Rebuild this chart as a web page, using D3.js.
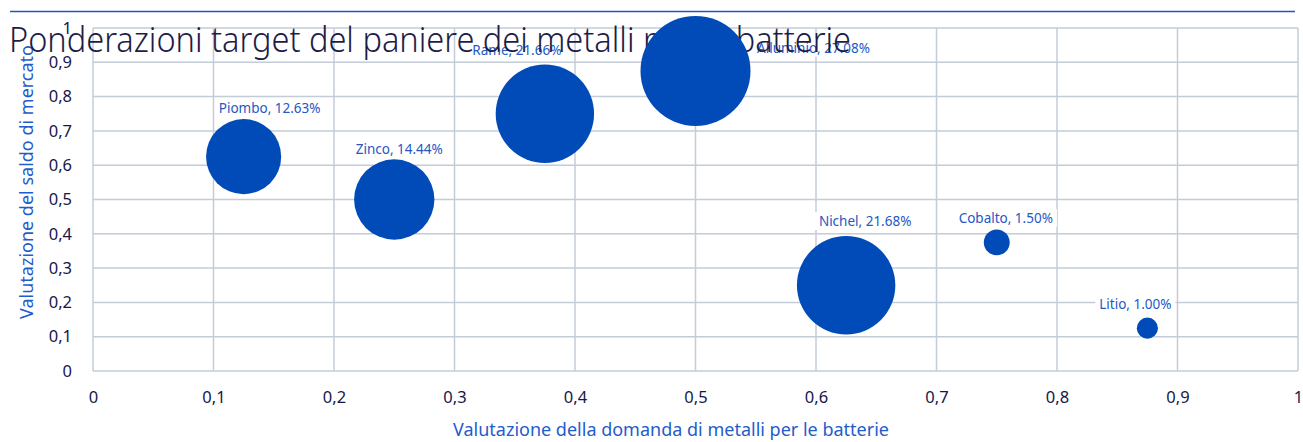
<!DOCTYPE html>
<html>
<head>
<meta charset="utf-8">
<script src="https://cdn.jsdelivr.net/npm/d3@7"></script>
<style>
  body { margin: 0; background: #fff; }
  svg { display: block; font-family: "Source Sans Pro", "Noto Sans", sans-serif; }
</style>
</head>
<body>
<svg id="chart" width="1303" height="442"></svg>
<script>
const metals = ["Piombo", "Zinco", "Rame", "Alluminio", "Nichel", "Cobalto", "Litio"];
const demand = [0.125, 0.25, 0.375, 0.5, 0.625, 0.75, 0.875];
const balance = [0.625, 0.5, 0.75, 0.875, 0.25, 0.375, 0.125];
const weights = [12.63, 14.44, 21.66, 27.08, 21.68, 1.50, 1.00];
const ticks = [0, 0.1, 0.2, 0.3, 0.4, 0.5, 0.6, 0.7, 0.8, 0.9, 1];

// label nudges in px (hand placed in the original)
const labelShift = [[26, -48], [5, -50], [-28, -63], [118, -23], [19, -64], [9, -24], [-12, -24]];

const svg = d3.select("#chart");
const pLeft = 93, pRight = 1298, pTop = 28, pBottom = 371;

const x = d3.scaleLinear([0, 1], [pLeft, pRight]);
const y = d3.scaleLinear([0, 1], [pBottom, pTop]);
const r = d3.scaleSqrt([0, 27.08], [0, 55]);

const fmt = v => String(v).replace(".", ",");

svg.append("line")
  .attr("x1", 10).attr("x2", 1295)
  .attr("y1", 11.5).attr("y2", 11.5)
  .attr("stroke", "#1f56c4").attr("stroke-width", 1.5);

// grid
svg.append("g")
  .selectAll("line")
  .data(ticks)
  .join("line")
  .attr("x1", d => x(d)).attr("x2", d => x(d))
  .attr("y1", pTop).attr("y2", pBottom)
  .attr("stroke", "#c3ccd7").attr("stroke-width", 1.5);

svg.append("g")
  .selectAll("line")
  .data(ticks)
  .join("line")
  .attr("x1", pLeft).attr("x2", pRight)
  .attr("y1", d => y(d)).attr("y2", d => y(d))
  .attr("stroke", "#c3ccd7").attr("stroke-width", 1.5);

const yAxis = d3.axisLeft(y).tickValues(ticks).tickFormat(fmt).tickSize(0).tickPadding(21);
const xAxis = d3.axisBottom(x).tickValues(ticks).tickFormat(fmt).tickSize(0).tickPadding(20);

svg.append("g")
  .attr("transform", `translate(${pLeft},0)`)
  .call(yAxis)
  .call(g => g.select(".domain").remove())
  .selectAll("text")
  .attr("font-size", "16.5px")
  .attr("font-family", "'Source Sans Pro', 'Noto Sans', sans-serif")
  .attr("fill", "#17174a");

svg.append("g")
  .attr("transform", `translate(0,${pBottom})`)
  .call(xAxis)
  .call(g => g.select(".domain").remove())
  .selectAll("text")
  .attr("font-size", "16.5px")
  .attr("font-family", "'Source Sans Pro', 'Noto Sans', sans-serif")
  .attr("fill", "#17174a");

svg.append("text")
  .attr("x", 671).attr("y", 436)
  .attr("text-anchor", "middle")
  .attr("font-size", "18px")
  .attr("fill", "#1f5ccc")
  .text("Valutazione della domanda di metalli per le batterie");

svg.append("text")
  .attr("transform", "translate(33,182) rotate(-90)")
  .attr("text-anchor", "middle")
  .attr("font-size", "18px")
  .attr("fill", "#1f5ccc")
  .text("Valutazione del saldo di mercato");

const pts = metals.map((m, i) => ({
  name: m, x: demand[i], y: balance[i], w: weights[i], shift: labelShift[i]
}));

// data labels with white boxes
const lab = svg.append("g")
  .selectAll("g")
  .data(pts)
  .join("g")
  .attr("transform", d => `translate(${x(d.x) + d.shift[0]},${y(d.y) + d.shift[1]})`);

lab.append("text")
  .attr("text-anchor", "middle")
  .attr("dy", "0.35em")
  .attr("font-size", "13.5px")
  .attr("fill", "#2458c6")
  .text(d => `${d.name}, ${d.w.toFixed(2)}%`);

lab.insert("rect", "text")
  .each(function() {
    const b = this.parentNode.querySelector("text").getBBox();
    d3.select(this)
      .attr("x", b.x - 4).attr("y", b.y)
      .attr("width", b.width + 8).attr("height", b.height)
      .attr("fill", "#fff");
  });

svg.append("text")
  .attr("x", 9).attr("y", 52)
  .attr("font-size", "34px")
  .attr("font-weight", 300)
  .attr("textLength", 842)
  .attr("lengthAdjust", "spacingAndGlyphs")
  .attr("fill", "#1d1d48")
  .text("Ponderazioni target del paniere dei metalli per le batterie");

svg.append("g")
  .selectAll("circle")
  .data(pts)
  .join("circle")
  .attr("cx", d => x(d.x))
  .attr("cy", d => y(d.y))
  .attr("r", d => r(d.w))
  .attr("fill", "#004bb8");
</script>
</body>
</html>
